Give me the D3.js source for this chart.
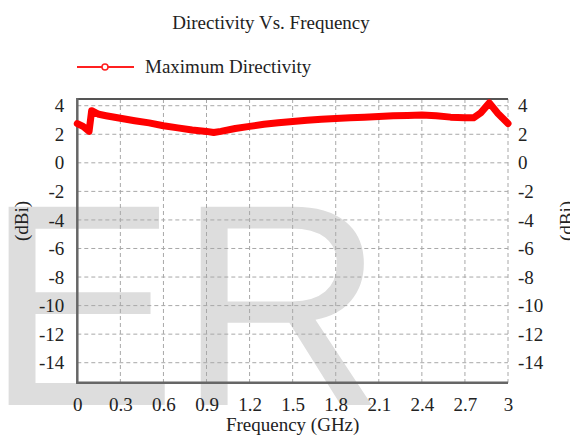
<!DOCTYPE html>
<html>
<head>
<meta charset="utf-8">
<script src="https://cdn.jsdelivr.net/npm/d3@7"></script>
<style>
  html, body { margin: 0; padding: 0; background: #fff; }
  svg { display: block; }
  svg text { font-family: "Liberation Serif", "Times New Roman", serif; fill: #222; font-size: 19px; }
  svg text.wm { font-family: "Liberation Sans", Arial, sans-serif; font-size: 288px; fill: #dddddd; }
</style>
</head>
<body>
<svg id="chart" width="570" height="436"></svg>
<script>
// ---- data ----
const titleText = "Directivity Vs. Frequency";
const seriesName = "Maximum Directivity";
const xTitle = "Frequency (GHz)";
const yTitle = "(dBi)";
const watermark = "ER";

const frequency = [0, 0.04, 0.082, 0.1, 0.15, 0.2, 0.3, 0.4, 0.5, 0.6, 0.7, 0.8, 0.9, 0.95, 1.0, 1.1, 1.2, 1.3, 1.4, 1.5, 1.6, 1.7, 1.8, 1.9, 2.0, 2.1, 2.2, 2.3, 2.4, 2.5, 2.6, 2.7, 2.76, 2.81, 2.87, 2.93, 3.0];
const directivity = [2.75, 2.55, 2.2, 3.65, 3.4, 3.3, 3.12, 2.95, 2.8, 2.6, 2.45, 2.3, 2.2, 2.12, 2.2, 2.4, 2.55, 2.7, 2.8, 2.9, 2.98, 3.05, 3.1, 3.15, 3.2, 3.25, 3.3, 3.32, 3.35, 3.3, 3.2, 3.15, 3.15, 3.5, 4.2, 3.45, 2.75];

const xTicks = [0, 0.3, 0.6, 0.9, 1.2, 1.5, 1.8, 2.1, 2.4, 2.7, 3];
const xTickLabels = ["0", "0.3", "0.6", "0.9", "1.2", "1.5", "1.8", "2.1", "2.4", "2.7", "3"];
const yTicks = [4, 2, 0, -2, -4, -6, -8, -10, -12, -14];
const yTickLabels = ["4", "2", "0", "-2", "-4", "-6", "-8", "-10", "-12", "-14"];

// ---- layout ----
const svg = d3.select("#chart");
const L = 77.3, R = 508, T = 99, B = 382.7;
const x = d3.scaleLinear().domain([0, 3]).range([L, R]);
const y = d3.scaleLinear().domain([-15.4, 4.47]).range([B, T]);

// watermark (background)
svg.append("text").attr("class", "wm")
  .attr("x", -15).attr("y", 405)
  .text(watermark);

// grid
const grid = svg.append("g").attr("stroke", "#a8a8a8").attr("stroke-width", 1).attr("stroke-dasharray", "4,3").attr("fill", "none");
grid.selectAll("line.h").data(yTicks).join("line").attr("class", "h")
  .attr("x1", L).attr("x2", R).attr("y1", d => y(d)).attr("y2", d => y(d));
grid.selectAll("line.v").data(xTicks.filter(d => d > 0)).join("line").attr("class", "v")
  .attr("y1", T).attr("y2", B).attr("x1", d => x(d)).attr("x2", d => x(d));

// top frame line
svg.append("line").attr("x1", L).attr("x2", R).attr("y1", T).attr("y2", T).attr("stroke", "#555").attr("stroke-width", 2);

// axes
const gL = svg.append("g").attr("transform", `translate(${L},0)`)
  .call(d3.axisLeft(y).tickValues(yTicks).tickFormat((d, i) => yTickLabels[i]).tickSize(0).tickPadding(13));
const gR = svg.append("g").attr("transform", `translate(${R},0)`)
  .call(d3.axisRight(y).tickValues(yTicks).tickFormat((d, i) => yTickLabels[i]).tickSize(0).tickPadding(10));
const gB = svg.append("g").attr("transform", `translate(0,${B})`)
  .call(d3.axisBottom(x).tickValues(xTicks).tickFormat((d, i) => xTickLabels[i]).tickSize(0).tickPadding(15));
[gL, gR, gB].forEach(g => {
  g.attr("font-family", null).attr("font-size", null);
  g.select(".domain").remove();
  g.selectAll("text").attr("fill", null);
});

svg.append("line").attr("x1", L).attr("x2", L).attr("y1", T - 1).attr("y2", B + 1).attr("stroke", "#666").attr("stroke-width", 2.5);
svg.append("line").attr("x1", L - 1).attr("x2", R).attr("y1", B).attr("y2", B).attr("stroke", "#666").attr("stroke-width", 2.5);

// series line
const line = d3.line().x((d, i) => x(frequency[i])).y(d => y(d));
svg.append("path").datum(directivity)
  .attr("d", line)
  .attr("fill", "none").attr("stroke", "#ff0000").attr("stroke-width", 7)
  .attr("stroke-linejoin", "round").attr("stroke-linecap", "round");

// title
svg.append("text").attr("x", 271).attr("y", 29).attr("text-anchor", "middle").text(titleText);

// legend
svg.append("line").attr("x1", 77).attr("x2", 134).attr("y1", 67).attr("y2", 67).attr("stroke", "#ff2020").attr("stroke-width", 2);
svg.append("circle").attr("cx", 105).attr("cy", 67).attr("r", 3).attr("fill", "#fff").attr("stroke", "#ff2020").attr("stroke-width", 1.5);
svg.append("text").attr("x", 145).attr("y", 73).text(seriesName);

// axis titles
svg.append("text").attr("x", (L + R) / 2).attr("y", 431).attr("text-anchor", "middle").text(xTitle);
svg.append("text").attr("transform", "translate(21,221) rotate(-90)").attr("text-anchor", "middle").attr("dy", "0.35em").text(yTitle);
svg.append("text").attr("transform", "translate(566,221) rotate(-90)").attr("text-anchor", "middle").attr("dy", "0.35em").text(yTitle);
</script>
</body>
</html>
